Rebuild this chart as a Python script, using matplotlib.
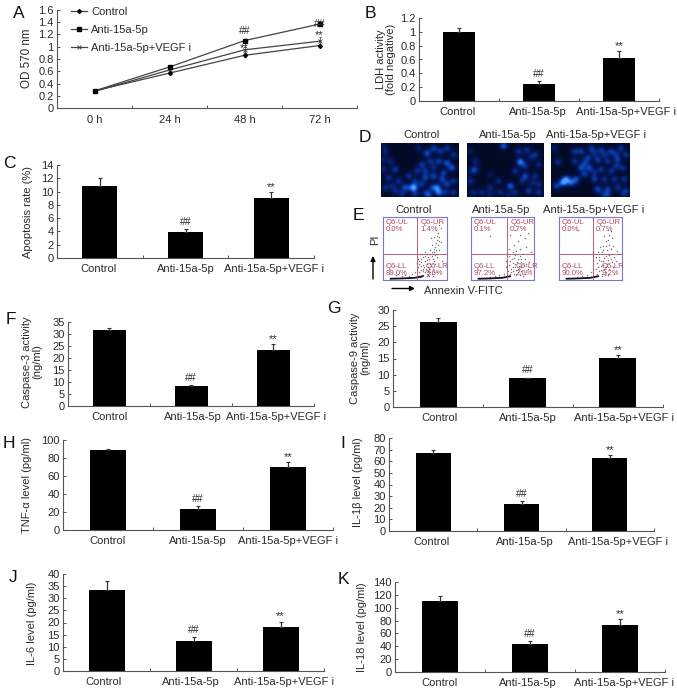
import numpy as np
import matplotlib
matplotlib.use('Agg')
import matplotlib.pyplot as plt
from matplotlib.colors import LinearSegmentedColormap

plt.rcParams['font.family'] = ['Liberation Sans', 'DejaVu Sans']
plt.rcParams['font.size'] = 8

W, H = 677, 692
INK = '#2a2a2a'
AXC = '#555555'

categories = ['Control', 'Anti-15a-5p', 'Anti-15a-5p+VEGF i']
times = ['0 h', '24 h', '48 h', '72 h']
od_control = [0.28, 0.57, 0.86, 1.02]
od_anti = [0.28, 0.67, 1.10, 1.37]
od_vegf = [0.27, 0.62, 0.95, 1.09]
od_control_err = [0.01, 0.02, 0.03, 0.03]
od_anti_err = [0.01, 0.02, 0.02, 0.02]
od_vegf_err = [0.01, 0.02, 0.05, 0.07]

lbl_ldh = 'LDH activity\n(fold negative)'
ldh = [1.0, 0.25, 0.62];            ldh_top = [1.06, 0.29, 0.72]
apop = [10.8, 3.9, 9.0];            apop_top = [12.1, 4.4, 9.9]
casp3 = [31.7, 8.2, 23.4];          casp3_top = [32.7, 8.9, 25.8]
casp9 = [26.2, 8.9, 15.2];          casp9_top = [27.4, 9.1, 16.1]
tnf = [88.5, 23.0, 69.5];           tnf_top = [89.5, 27.0, 75.5]
il1b = [67.5, 23.5, 62.5];          il1b_top = [70.0, 25.5, 65.5]
il6 = [33.3, 12.2, 18.0];           il6_top = [37.2, 14.0, 20.4]
il18 = [111.0, 43.0, 73.5];         il18_top = [118.0, 47.5, 82.0]

# fluorescence nuclei (zoomed-crop coordinates, last = brightness)
nuclei_1 = [(30,40,.6),(45,70,.6),(25,95,.6),(60,95,.8),(40,120,.7),(70,130,.7),(30,150,.6),(60,160,.6),
            (95,150,.7),(115,150,.8),(125,100,.7),(140,80,.8),(155,45,1.),(175,30,.8),(195,40,.7),(215,30,.7),
            (235,50,.7),(215,75,1.),(190,70,.8),(165,70,.7),(230,90,1.),(205,105,.8),(175,115,.9),(150,120,.8),
            (140,140,.7),(185,150,1.2),(215,140,.8),(235,130,.7),(190,165,1.2),(160,172,.9),(235,165,.7),
            (120,170,.7),(80,170,.6),(100,115,.7),(130,30,.5),(150,100,.7),(200,125,.8),(170,150,.7),(115,150,1.),
            (25,20,.4),(22,65,.5),(85,150,.5),(50,145,.5),(120,130,.6),(175,90,.6),(210,165,.6),(150,165,.5)]
nuclei_2 = [(300,70,.6),(290,100,.5),(300,95,.7),(385,22,1.1),(285,130,.7),(295,165,.6),(320,165,.6),(345,150,.6),
            (370,130,.6),(375,165,.6),(405,145,1.1),(435,72,1.4),(430,40,.7),(455,35,.7),(480,50,.7),(450,85,.7),
            (490,80,.6),(420,100,.7),(450,115,.9),(480,115,.6),(440,130,.6),(460,160,.8),(490,165,.7),(420,165,.6),
            (490,140,.6),(285,40,.4),(345,110,.4),(465,60,.5),(400,172,.5),(345,172,.5),(470,135,.5)]
nuclei_3 = [(545,145,.8),(575,125,1.4),(590,135,1.1),(565,135,1.4),(605,125,1.),(600,70,.7),(620,40,.8),(650,30,.7),
            (680,35,.7),(710,40,.8),(740,30,.7),(755,50,.7),(640,60,.8),(670,65,.8),(700,70,.7),(730,65,.8),(620,90,.9),
            (645,90,.9),(680,95,.7),(710,100,.7),(745,90,.7),(660,125,.8),(690,125,.7),(720,125,.7),(750,125,.7),
            (670,155,.9),(700,155,.8),(730,150,.7),(755,160,.7),(700,172,.7),(550,72,.7),(540,30,.5),(630,110,.8),(600,40,.7),
            (660,45,.6),(725,48,.6),(690,50,.6),(660,105,.6),(725,85,.6),(685,172,.5),(745,172,.5),(630,75,.7)]
image_boxes = [(18, 250), (276, 505), (530, 766)]

# flow-cytometry events (fractions of each plot box)
flow_1 = [(.58,.05),(.62,.08),(.66,.12),(.6,.16),(.55,.2),(.64,.2),(.7,.1),(.74,.12),(.72,.18),(.78,.17),(.68,.26),(.74,.26),
          (.6,.28),(.55,.33),(.62,.36),(.72,.34),(.8,.3),(.76,.38),(.68,.42),(.8,.44),(.74,.48),(.85,.42),(.82,.52),(.76,.55),
          (.86,.56),(.84,.63),(.88,.68),(.8,.68),(.9,.6),(.86,.74),(.65,.45),(.58,.42),(.9,.82),(.75,.66),(.7,.08),(.63,.14),
          (.66,.3),(.7,.2),(.82,.25),(.78,.07),(.85,.12),(.92,.3),(.5,.12),(.45,.1),(.4,.07),(.35,.08),(.3,.06),(.2,.08),(.57,.25),
          (.56,.3),(.6,.33),(.63,.24),(.67,.17),(.71,.14),(.75,.22),(.69,.31),(.73,.41),(.78,.33),(.83,.47),(.79,.5),(.87,.62),
          (.83,.58),(.81,.39),(.77,.44),(.7,.37),(.65,.38),(.6,.22),(.57,.12),(.62,.18),(.76,.1),(.8,.12),(.68,.06),(.72,.06),
          (.88,.47),(.84,.36),(.85,.7),(.83,.8),(.87,.88),(.53,.27),(.61,.42)]
flow_2 = [(.6,.07),(.64,.12),(.58,.15),(.68,.1),(.72,.16),(.66,.2),(.6,.24),(.55,.3),(.7,.26),(.76,.22),(.8,.15),(.84,.24),(.65,.33),
          (.74,.33),(.8,.34),(.6,.38),(.7,.4),(.86,.33),(.9,.18),(.78,.08),(.86,.1),(.52,.1),(.45,.08),(.38,.07),(.3,.05),
          (.68,.55),(.75,.62),(.62,.72),(.85,.66),(.7,.8),(.88,.52),(.3,.7),(.95,.45),(.55,.2),(.62,.3),(.72,.08),(.8,.28),
          (.63,.18),(.67,.15),(.7,.21),(.75,.17),(.62,.1),(.57,.22),(.66,.27),(.73,.29),(.78,.38),(.68,.35),(.83,.42),(.72,.46),
          (.8,.2),(.87,.26),(.75,.12),(.83,.06),(.92,.28),(.6,.5),(.78,.5),(.66,.44),(.77,.72),(.9,.75)]
flow_3 = [(.56,.06),(.6,.1),(.64,.14),(.58,.18),(.68,.1),(.72,.18),(.66,.22),(.6,.27),(.54,.3),(.7,.3),(.76,.26),(.8,.18),(.84,.28),
          (.64,.36),(.74,.38),(.8,.4),(.68,.44),(.76,.48),(.84,.42),(.7,.54),(.8,.56),(.74,.62),(.84,.66),(.8,.72),(.86,.54),
          (.9,.3),(.78,.08),(.88,.1),(.5,.12),(.44,.08),(.36,.07),(.28,.05),(.62,.44),(.72,.7),(.92,.46),(.3,.8),(.66,.3),(.73,.08),
          (.62,.2),(.67,.16),(.7,.24),(.75,.2),(.63,.32),(.58,.36),(.72,.35),(.78,.32),(.82,.34),(.77,.42),(.7,.47),(.82,.5),
          (.65,.52),(.75,.54),(.78,.64),(.88,.36),(.85,.2),(.75,.13),(.62,.07),(.69,.06),(.82,.78),(.77,.8)]
flow_boxes = [(383, 447, 417), (471, 534, 507), (559, 622, 593)]
flow_top, flow_bottom, flow_hline = 217, 280, 254
flow_ul = ['0.0%', '0.1%', '0.0%']
flow_ur = ['1.4%', '0.7%', '0.7%']
flow_ll = ['89.0%', '97.2%', '90.0%']
flow_lr = ['9.6%', '2.0%', '9.2%']

fig = plt.figure(figsize=(W / 100, H / 100), dpi=100)


def make_ax(x0, x1, ytop, ybot):
    return fig.add_axes([x0 / W, 1 - ybot / H, (x1 - x0) / W, (ybot - ytop) / H])


def ftext(x, y, s, **kw):
    kw.setdefault('ha', 'center')
    kw.setdefault('va', 'center')
    kw.setdefault('color', INK)
    return fig.text(x / W, 1 - y / H, s, **kw)


def style(ax):
    for s in ('top', 'right'):
        ax.spines[s].set_visible(False)
    for s in ('left', 'bottom'):
        ax.spines[s].set_linewidth(0.8)
        ax.spines[s].set_color(AXC)
    ax.tick_params(axis='y', direction='in', length=2.2, width=0.7, color=AXC, labelcolor=INK, pad=2.5, labelsize=8)
    ax.tick_params(axis='x', which='major', direction='in', length=2.2, width=0.7, color=AXC, labelbottom=False)
    ax.tick_params(axis='x', which='minor', length=0, pad=4, labelcolor=INK, labelsize=8)


def bar_panel(box, vals, tops, ymax, ystep, width_px, ylabel, ylabel_xy, nudge):
    x0, x1, ytop, ybot = box
    ax = make_ax(x0, x1, ytop, ybot)
    pos = np.arange(3) + 0.5
    w = width_px / (x1 - x0) * 3
    ax.bar(pos, vals, width=w, color='black')
    up = np.array(tops) - np.array(vals)
    ax.errorbar(pos, vals, yerr=[np.zeros(3), up], fmt='none', ecolor='#333333', elinewidth=0.9, capsize=1.6, capthick=0.8)
    ax.set_xlim(0, 3)
    ax.set_ylim(0, ymax)
    ax.set_yticks(np.arange(0, ymax + ystep / 2, ystep))
    ax.set_yticklabels(['%g' % t for t in np.arange(0, ymax + ystep / 2, ystep)])
    ax.set_xticks([1, 2, 3])
    ax.set_xticks(pos + np.array(nudge) / (x1 - x0) * 3, minor=True)
    ax.set_xticklabels(categories, minor=True)
    style(ax)
    ax.annotate('##', (pos[1], tops[1]), xytext=(0, 1.5), textcoords='offset points', ha='center', va='bottom', fontsize=7.5, color=INK)
    ax.annotate('**', (pos[2], tops[2]), xytext=(0, 0), textcoords='offset points', ha='center', va='bottom', fontsize=8, color=INK)
    ftext(ylabel_xy[0], ylabel_xy[1], ylabel, rotation=90, linespacing=1.0, fontsize=8)
    return ax


# Panel A
axA = make_ax(57, 357, 10, 108)
xp = np.arange(4) + 0.5
line_kw = dict(color='#444444', lw=0.9, capsize=1.0, elinewidth=0.5)
c1 = axA.errorbar(xp, od_control, yerr=od_control_err, marker='D', ms=2.0, mfc='black', mec='black', label='Control', **line_kw)
c3 = axA.errorbar(xp, od_vegf, yerr=od_vegf_err, marker='x', ms=3.2, mew=0.6, mec='#333333', label='Anti-15a-5p+VEGF i', **line_kw)
c2 = axA.errorbar(xp, od_anti, yerr=od_anti_err, marker='s', ms=3.2, mfc='black', mec='black', label='Anti-15a-5p', **line_kw)
axA.set_xlim(0, 4)
axA.set_ylim(0, 1.6)
axA.set_yticks(np.arange(0, 1.61, 0.2))
axA.set_yticklabels(['0', '0.2', '0.4', '0.6', '0.8', '1', '1.2', '1.4', '1.6'])
axA.set_xticks([1, 2, 3, 4])
axA.set_xticks(xp, minor=True)
axA.set_xticklabels(times, minor=True)
style(axA)
axA.tick_params(axis='x', which='minor', pad=5)
axA.text(xp[2], 1.25, '##', ha='center', va='center', fontsize=7.5, color=INK)
axA.text(xp[3], 1.37, '##', ha='center', va='center', fontsize=7.5, color=INK)
axA.text(xp[2], 0.98, '**', ha='center', va='center', fontsize=8, color=INK)
axA.text(xp[3], 1.19, '**', ha='center', va='center', fontsize=8, color=INK)
axA.legend([c1[0], c2[0], c3[0]], ['Control', 'Anti-15a-5p', 'Anti-15a-5p+VEGF i'], loc='upper left', bbox_to_anchor=(14 / 300, 1.03),
           frameon=False, handlelength=1.45, handletextpad=0.35, labelspacing=0.72, borderpad=0, borderaxespad=0, fontsize=8, labelcolor=INK)
ftext(27, 58, 'OD 570 nm', rotation=90, fontsize=8.4)

bar_panel((419, 659, 18, 101), ldh, ldh_top, 1.2, 0.2, 32, lbl_ldh, (386, 59), (-1.5, -1, 6.5))
bar_panel((57, 314, 165, 258), apop, apop_top, 14, 2, 35, 'Apoptosis rate (%)', (28, 212), (-1, 0, 3))
bar_panel((68, 314, 322, 406), casp3, casp3_top, 35, 5, 33, 'Caspase-3 activity\n(ng/ml)', (32, 362), (0, 2, 3))
bar_panel((393, 663, 310, 407), casp9, casp9_top, 30, 5, 37, 'Caspase-9 activity\n(ng/ml)', (360, 358), (1, 0, 6))
bar_panel((63, 333, 440, 530), tnf, tnf_top, 100, 20, 36, 'TNF-α level (pg/ml)', (27, 485), (-1, 0, 0))
bar_panel((389, 654, 438, 531), il1b, il1b_top, 80, 10, 35, 'IL-1β level (pg/ml)', (358, 482), (-2, 3, 8))
bar_panel((63, 324, 574, 671), il6, il6_top, 40, 5, 36, 'IL-6 level (pg/ml)', (32, 623), (-3, -2.5, 3.5))
bar_panel((395, 665, 582, 672), il18, il18_top, 140, 20, 36.5, 'IL-18 level (pg/ml)', (362, 627), (0, -2, 4))

# Panel D
cm = LinearSegmentedColormap.from_list('dapi', ['#030a26', '#04185c', '#0a3aa5', '#1a66e0', '#4aa0ff'])
for nuclei, (bx0, bx1), (px0, px1), title_x in zip((nuclei_1, nuclei_2, nuclei_3), image_boxes,
                                                  [(381, 459), (467, 544), (551, 630)], (422, 508, 596)):
    ax = make_ax(px0, px1, 143, 197)
    gx, gy = np.meshgrid(np.linspace(bx0, bx1, 120), np.linspace(15, 178, 84))
    img = np.zeros_like(gx)
    for nx, ny, amp in nuclei:
        img += amp * np.exp(-((gx - nx) ** 2 + (gy - ny) ** 2) / (2 * 8.5 ** 2))
    ax.imshow(img, cmap=cm, vmin=0, vmax=1.7, extent=(bx0, bx1, 178, 15), aspect='auto', interpolation='bilinear')
    ax.axis('off')
    ftext(title_x, 135, categories[image_boxes.index((bx0, bx1))], fontsize=8)

# Panel E
QC = '#b0486a'
BC = '#7a78c8'
for i, (pts, (fx0, fx1, fv), tx) in enumerate(zip((flow_1, flow_2, flow_3), flow_boxes, (414, 501, 594))):
    ax = make_ax(fx0, fx1, flow_top, flow_bottom)
    pts = np.array(pts)
    ax.scatter(pts[:, 0], pts[:, 1], s=1.1, c='#444444', alpha=0.75, linewidths=0)
    ax.plot([0.12, 0.3, 0.5, 0.62], [0.02, 0.025, 0.035, 0.06], color='#111111', lw=1.3)
    ax.set_xlim(0, 1)
    ax.set_ylim(0, 1)
    ax.set_xticks([])
    ax.set_yticks([])
    for s in ax.spines.values():
        s.set_color(BC)
        s.set_linewidth(0.8)
    ax.axvline((fv - fx0) / (fx1 - fx0), color=QC, lw=0.6)
    ax.axhline((flow_bottom - flow_hline) / (flow_bottom - flow_top), color=QC, lw=0.6)
    vx = (fv - fx0) / (fx1 - fx0) + 0.05
    tkw = dict(fontsize=5.6, color=QC, va='top', ha='left', linespacing=1.05)
    ax.text(0.04, 0.97, 'Q6-UL\n' + flow_ul[i], **tkw)
    ax.text(vx, 0.97, 'Q6-UR\n' + flow_ur[i], **tkw)
    ax.text(0.04, 0.27, 'Q6-LL\n' + flow_ll[i], **tkw)
    ax.text(vx + 0.08, 0.27, 'Q6-LR\n' + flow_lr[i], **tkw)
    ftext(tx, 210, categories[i], fontsize=8.1)

ftext(375, 240, 'PI', rotation=90, fontsize=8)
ftext(424, 291, 'Annexin V-FITC', ha='left', fontsize=8)
arrow_ax = fig.add_axes([0, 0, 1, 1], facecolor='none')
arrow_ax.set_xlim(0, W)
arrow_ax.set_ylim(H, 0)
arrow_ax.axis('off')
arrow_ax.annotate('', xy=(373, 256), xytext=(373, 279), arrowprops=dict(arrowstyle='-|>', color='black', lw=1.0, mutation_scale=7, shrinkA=0, shrinkB=0))
arrow_ax.annotate('', xy=(415, 288.5), xytext=(392, 288.5), arrowprops=dict(arrowstyle='-|>', color='black', lw=1.0, mutation_scale=7, shrinkA=0, shrinkB=0))

# Panel letters
letters = {'A': (19, 14), 'B': (370, 13), 'C': (9, 164), 'D': (365, 138), 'E': (358, 216), 'F': (11, 320),
           'G': (334, 308), 'H': (9, 444), 'I': (343, 443), 'J': (13, 577), 'K': (343, 579)}
for k, (lx, ly) in letters.items():
    ftext(lx, ly, k, fontsize=12.5, color='#111111')

fig.savefig('out.png', dpi=100)
